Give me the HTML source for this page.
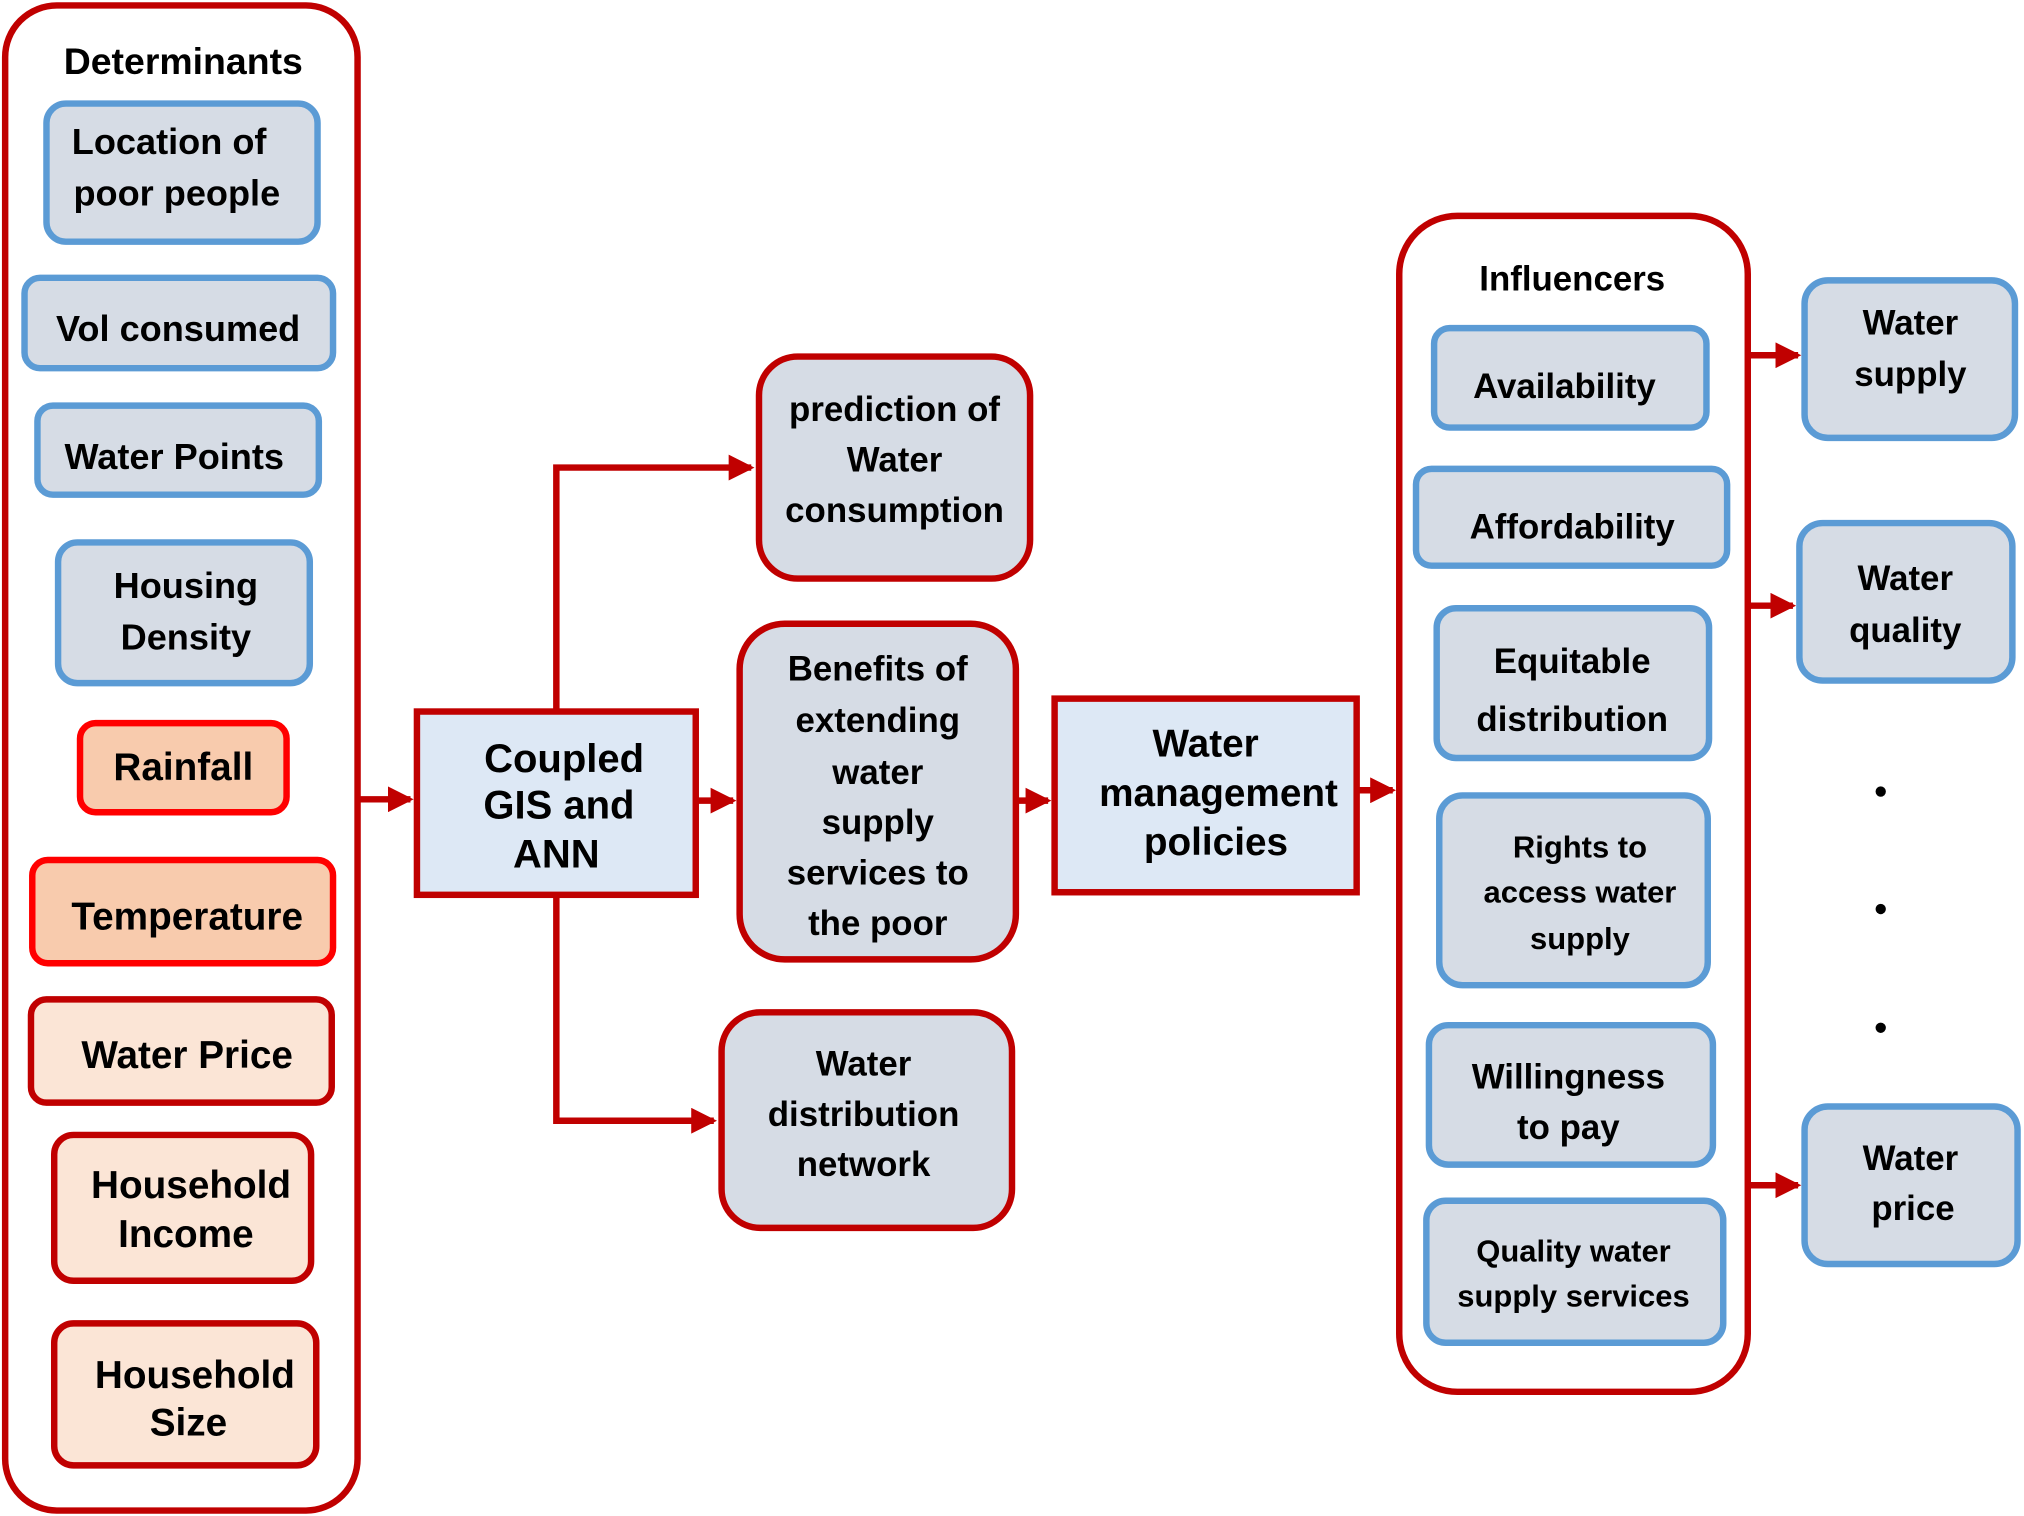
<!DOCTYPE html>
<html><head><meta charset="utf-8"><style>
html,body{margin:0;padding:0;background:#fff;}
svg{display:block;}
text{font-family:"Liberation Sans",sans-serif;font-weight:bold;fill:#000;text-anchor:middle;}
</style></head><body>
<svg width="2024" height="1516" viewBox="0 0 1568 1174" xmlns="http://www.w3.org/2000/svg">
<defs>
<marker id="ah" markerWidth="4" markerHeight="4" refX="3.5" refY="2" orient="auto" markerUnits="strokeWidth">
<path d="M0,0 L4,2 L0,4 z" fill="#c00000"/></marker>
</defs>
<g stroke-width="5">
<rect x="4" y="4" width="273" height="1166" rx="40" fill="#fff" stroke="#c00000"/>
<rect x="36" y="80" width="210" height="107" rx="15" fill="#d6dce5" stroke="#5b9bd5"/>
<rect x="19" y="215" width="239" height="70" rx="12" fill="#d6dce5" stroke="#5b9bd5"/>
<rect x="29" y="314" width="218" height="69" rx="12" fill="#d6dce5" stroke="#5b9bd5"/>
<rect x="45" y="420" width="195" height="109" rx="15" fill="#d6dce5" stroke="#5b9bd5"/>
<rect x="62" y="560" width="160" height="69" rx="12" fill="#f8cbad" stroke="#ff0000"/>
<rect x="25" y="666" width="233" height="80" rx="12" fill="#f8cbad" stroke="#ff0000"/>
<rect x="24" y="774" width="233" height="80" rx="12" fill="#fbe5d6" stroke="#c00000"/>
<rect x="42" y="879" width="199" height="113" rx="15" fill="#fbe5d6" stroke="#c00000"/>
<rect x="42" y="1025" width="203" height="110" rx="15" fill="#fbe5d6" stroke="#c00000"/>
<rect x="323" y="551" width="216" height="142" fill="#dde8f5" stroke="#c00000"/>
<rect x="588" y="276" width="210" height="172" rx="30" fill="#d6dce5" stroke="#c00000"/>
<rect x="573" y="483" width="214" height="260" rx="35" fill="#d6dce5" stroke="#c00000"/>
<rect x="559" y="784" width="225" height="167" rx="30" fill="#d6dce5" stroke="#c00000"/>
<rect x="817" y="541" width="234" height="150" fill="#dde8f5" stroke="#c00000"/>
<rect x="1084" y="167" width="270" height="911" rx="45" fill="#fff" stroke="#c00000"/>
<rect x="1111" y="254" width="211" height="77" rx="12" fill="#d6dce5" stroke="#5b9bd5"/>
<rect x="1097" y="363" width="241" height="75" rx="12" fill="#d6dce5" stroke="#5b9bd5"/>
<rect x="1113" y="471" width="211" height="116" rx="15" fill="#d6dce5" stroke="#5b9bd5"/>
<rect x="1115" y="616" width="208" height="147" rx="18" fill="#d6dce5" stroke="#5b9bd5"/>
<rect x="1107" y="794" width="220" height="108" rx="15" fill="#d6dce5" stroke="#5b9bd5"/>
<rect x="1105" y="930" width="230" height="110" rx="15" fill="#d6dce5" stroke="#5b9bd5"/>
<rect x="1398" y="217" width="163" height="122" rx="18" fill="#d6dce5" stroke="#5b9bd5"/>
<rect x="1394" y="405" width="165" height="122" rx="18" fill="#d6dce5" stroke="#5b9bd5"/>
<rect x="1398" y="857" width="165" height="122" rx="18" fill="#d6dce5" stroke="#5b9bd5"/>
</g>
<g stroke="#c00000" stroke-width="5" fill="none">
<line x1="277" y1="619" x2="318" y2="619" marker-end="url(#ah)"/>
<polyline points="431,551 431,362 582,362" marker-end="url(#ah)"/>
<polyline points="431,693 431,868 553,868" marker-end="url(#ah)"/>
<line x1="539" y1="620" x2="568" y2="620" marker-end="url(#ah)"/>
<line x1="787" y1="620" x2="812" y2="620" marker-end="url(#ah)"/>
<line x1="1051" y1="612" x2="1079" y2="612" marker-end="url(#ah)"/>
<line x1="1354" y1="275" x2="1393" y2="275" marker-end="url(#ah)"/>
<line x1="1354" y1="469" x2="1389" y2="469" marker-end="url(#ah)"/>
<line x1="1354" y1="918" x2="1393" y2="918" marker-end="url(#ah)"/>
</g>
<g fill="#000"><circle cx="1457" cy="613" r="4"/><circle cx="1457" cy="704" r="4"/><circle cx="1457" cy="796" r="4"/></g>
<g font-size="29">
<text x="142" y="57">Determinants</text>
<text x="131" y="119" font-size="28">Location of</text><text x="137" y="159" font-size="28">poor people</text>
<text x="138" y="264" font-size="28">Vol consumed</text>
<text x="135" y="363" font-size="28">Water Points</text>
<text x="144" y="463" font-size="28">Housing</text><text x="144" y="503" font-size="28">Density</text>
<text x="142" y="604" font-size="30">Rainfall</text>
<text x="145" y="720" font-size="30">Temperature</text>
<text x="145" y="827" font-size="30">Water Price</text>
<text x="148" y="928" font-size="30">Household</text><text x="144" y="966" font-size="30">Income</text>
<text x="151" y="1075" font-size="30">Household</text><text x="146" y="1112" font-size="30">Size</text>
<text x="437" y="598" font-size="31">Coupled</text><text x="433" y="634" font-size="31">GIS and</text><text x="431" y="672" font-size="31">ANN</text>
<text x="693" y="326" font-size="27">prediction of</text><text x="693" y="365" font-size="27">Water</text><text x="693" y="404" font-size="27">consumption</text>
<g font-size="27"><text x="680" y="527">Benefits of</text><text x="680" y="567">extending</text><text x="680" y="607">water</text><text x="680" y="646">supply</text><text x="680" y="685">services to</text><text x="680" y="724">the poor</text></g>
<g font-size="27"><text x="669" y="833">Water</text><text x="669" y="872">distribution</text><text x="669" y="911">network</text></g>
<text x="934" y="586" font-size="30">Water</text><text x="944" y="624" font-size="30">management</text><text x="942" y="662" font-size="30">policies</text>
<text x="1218" y="225" font-size="27">Influencers</text>
<text x="1212" y="308" font-size="27">Availability</text>
<text x="1218" y="417" font-size="27">Affordability</text>
<text x="1218" y="521" font-size="27">Equitable</text><text x="1218" y="566" font-size="27">distribution</text>
<g font-size="24"><text x="1224" y="664">Rights to</text><text x="1224" y="699">access water</text><text x="1224" y="735">supply</text></g>
<text x="1215" y="843" font-size="27">Willingness</text><text x="1215" y="882" font-size="27">to pay</text>
<g font-size="24"><text x="1219" y="977">Quality water</text><text x="1219" y="1012">supply services</text></g>
<text x="1480" y="259" font-size="27">Water</text><text x="1480" y="299" font-size="27">supply</text>
<text x="1476" y="457" font-size="27">Water</text><text x="1476" y="497" font-size="27">quality</text>
<text x="1480" y="906" font-size="27">Water</text><text x="1482" y="945" font-size="27">price</text>
</g>
</svg>
</body></html>
